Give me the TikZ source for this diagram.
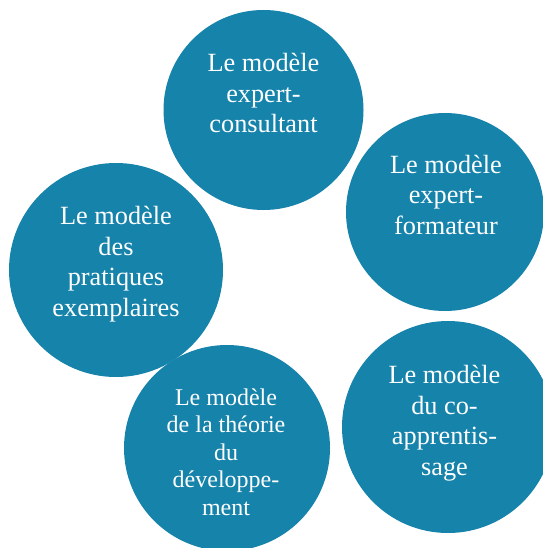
\documentclass[tikz,border=0pt]{standalone}
\usepackage{fontspec}
\setmainfont{Liberation Serif}
\definecolor{bulle}{RGB}{22,131,171}

\begin{document}
\begin{tikzpicture}[x=1bp,y=-1bp,
    disque/.style={circle,fill=bulle,draw=none,inner sep=0pt},
    texte/.style={text=white,align=center,inner sep=0pt,anchor=base,
        font=\fontsize{26.3bp}{30.5bp}\selectfont},
    petit/.style={font=\fontsize{24bp}{27.5bp}\selectfont}]
    \useasboundingbox (0,0) rectangle (543,548);

    % The five circles
    \node[disque,minimum size=200bp] (consultant) at (263.5,110) {};
    \node[disque,minimum size=198bp] (formateur) at (445,212) {};
    \node[disque,minimum size=214bp] (pratiques) at (116,270) {};
    \node[disque,minimum size=206bp] (theorie) at (227,448) {};
    \node[disque,minimum size=212bp] (coapp) at (448,427) {};

    % Labels, anchored on the last line
    \node[texte] (t-consultant) at (263.5,133) {Le modèle\\expert-\\consultant};
    \node[texte] (t-formateur) at (446,234.5) {Le modèle\\expert-\\formateur};
    \node[texte] (t-pratiques) at (116,316.3) {Le modèle\\des\\pratiques\\exemplaires};
    \node[texte,petit] (t-theorie) at (226,515) {Le modèle\\de la théorie\\du\\développe-\\ment};
    \node[texte] (t-coapp) at (444.5,475.3) {Le modèle\\du co-\\apprentis-\\sage};
\end{tikzpicture}
\end{document}
